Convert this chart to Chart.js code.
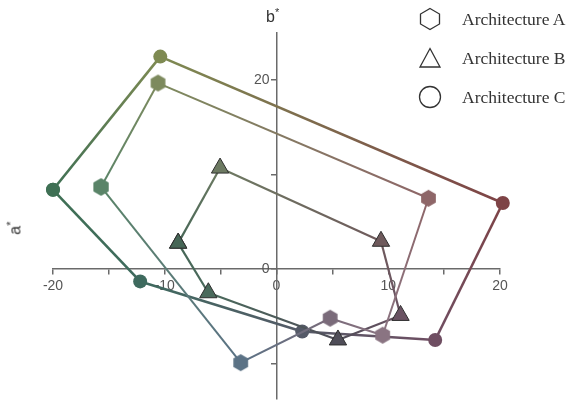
<!DOCTYPE html>
<html>
<head>
<meta charset="utf-8">
<script src="https://cdn.jsdelivr.net/npm/chart.js@4.4.1/dist/chart.umd.min.js"></script>
<style>
  body { margin: 0; background: #fff; }
  #wrap { position: relative; width: 584px; height: 410px; overflow: hidden; }
  .axis-title { position: absolute; font-family: 'Liberation Sans', Arial, sans-serif; font-size: 16px; color: #333; }
  #bTitle { left: 266px; top: 6px; }
  #aTitle { left: 8px; top: 218px; transform: rotate(-90deg); transform-origin: center; }
  .legend { position: absolute; left: 418px; font-family: 'Liberation Serif', 'DejaVu Serif', serif; font-size: 17.5px; color: #333; display: flex; align-items: center; }
  .legend svg { width: 24px; height: 24px; margin-right: 20px; }
</style>
</head>
<body>
<div id="wrap">
  <canvas id="chart" width="584" height="410"></canvas>
  <div class="axis-title" id="bTitle">b<sup style="font-size:11px">*</sup></div>
  <div class="axis-title" id="aTitle">a<sup style="font-size:11px">*</sup></div>
  <div class="legend" style="top:7px">
    <svg viewBox="0 0 24 24"><polygon points="12,1.5 21.5,7 21.5,17 12,22.5 2.5,17 2.5,7" fill="none" stroke="#333" stroke-width="1.3"/></svg>
    Architecture A
  </div>
  <div class="legend" style="top:46px">
    <svg viewBox="0 0 24 24"><polygon points="12,2.5 22,21 2,21" fill="none" stroke="#333" stroke-width="1.3"/></svg>
    Architecture B
  </div>
  <div class="legend" style="top:85px">
    <svg viewBox="0 0 24 24"><circle cx="12" cy="12" r="10.5" fill="none" stroke="#333" stroke-width="1.3"/></svg>
    Architecture C
  </div>
</div>
<script>
// a* / b* coordinates of each polygon, in drawing order (closed back to the first point)
const seriesNames = ['Architecture A', 'Architecture B', 'Architecture C'];
const archA_a = [-15.7, -10.6, 13.6, 9.5, 4.8, -3.2];
const archA_b = [8.7, 19.7, 7.5, -7.0, -5.2, -9.9];
const archB_a = [-8.8, -5.05, 9.35, 11.1, 5.5, -6.1];
const archB_b = [2.75, 10.7, 2.95, -4.9, -7.5, -2.5];
const archC_a = [-20.0, -10.4, 20.25, 14.2, 2.3, -12.2];
const archC_b = [8.4, 22.5, 7.0, -7.5, -6.6, -1.3];
const xTickLabels = [-20, -10, 0, 10, 20];
const yTickLabels = [0, 20];

// marker colours (the colour each point stands for)
const colorsA = ['#5a8468', '#7d8a5e', '#8e6668', '#8a7482', '#7a6b7a', '#5b7285'];
const colorsB = ['#466656', '#6d7a62', '#6f5a5c', '#6a5262', '#4f4d58', '#4a6a5c'];
const colorsC = ['#3f7054', '#7e8a52', '#7e4346', '#6f4e62', '#555a68', '#3e6a5e'];

function closedPoints(xs, ys) {
  const pts = xs.map((x, i) => ({ x, y: ys[i] }));
  pts.push({ ...pts[0] });
  return pts;
}

function hexMarker(color, r) {
  const c = document.createElement('canvas');
  const s = Math.ceil(r * 2 + 2);
  c.width = s; c.height = s;
  const g = c.getContext('2d');
  g.beginPath();
  for (let i = 0; i < 6; i++) {
    const ang = Math.PI / 3 * i - Math.PI / 2;
    const px = s / 2 + r * Math.cos(ang), py = s / 2 + r * Math.sin(ang);
    i ? g.lineTo(px, py) : g.moveTo(px, py);
  }
  g.closePath();
  g.fillStyle = color;
  g.fill();
  return c;
}

const hexA = colorsA.map(c => hexMarker(c, 8.5));

function gradientSegment(colors) {
  return ctx => {
    const { p0, p1 } = ctx;
    const g = ctx.chart.ctx.createLinearGradient(p0.x, p0.y, p1.x, p1.y);
    g.addColorStop(0, colors[ctx.p0DataIndex % colors.length]);
    g.addColorStop(1, colors[ctx.p1DataIndex % colors.length]);
    return g;
  };
}

const pick = colors => ctx => colors[ctx.dataIndex % colors.length];

// center axes should not push the plot area inwards
function noPadding(scale) {
  scale.paddingTop = 0;
  scale.paddingBottom = 0;
  scale.paddingLeft = 0;
  scale.paddingRight = 0;
  if (scale.isHorizontal()) scale.height = 0; else scale.width = 0;
}

new Chart(document.getElementById('chart'), {
  type: 'scatter',
  data: {
    datasets: [
      {
        label: seriesNames[0],
        data: closedPoints(archA_a, archA_b),
        showLine: true,
        clip: false,
        borderWidth: 2,
        borderColor: colorsA[0],
        segment: { borderColor: gradientSegment(colorsA) },
        pointStyle: ctx => hexA[ctx.dataIndex % hexA.length],
        pointRadius: 8
      },
      {
        label: seriesNames[1],
        data: closedPoints(archB_a, archB_b),
        showLine: true,
        clip: false,
        borderWidth: 2.2,
        borderColor: colorsB[0],
        segment: { borderColor: gradientSegment(colorsB) },
        pointStyle: 'triangle',
        pointRadius: 10,
        pointBackgroundColor: pick(colorsB),
        pointBorderColor: '#2e2e2e',
        pointBorderWidth: 1
      },
      {
        label: seriesNames[2],
        data: closedPoints(archC_a, archC_b),
        showLine: true,
        clip: false,
        borderWidth: 2.6,
        borderColor: colorsC[0],
        segment: { borderColor: gradientSegment(colorsC) },
        pointStyle: 'circle',
        pointRadius: 7,
        pointBackgroundColor: pick(colorsC),
        pointBorderWidth: 0
      }
    ]
  },
  options: {
    responsive: false,
    animation: false,
    layout: { padding: { left: 53, right: 84, top: 33, bottom: 0 } },
    plugins: { legend: { display: false }, tooltip: { enabled: false } },
    scales: {
      x: {
        type: 'linear',
        position: { y: 0 },
        min: -20, max: 20,
        afterFit: noPadding,
        border: { color: '#6a6a6a', width: 1.5 },
        grid: { drawOnChartArea: false, drawTicks: true, tickLength: 5, color: '#6a6a6a', lineWidth: 1.5 },
        ticks: {
          stepSize: 5, padding: 4, maxRotation: 0, autoSkip: false,
          color: '#555', font: { family: 'Liberation Sans', size: 14 },
          callback: v => xTickLabels.includes(v) ? String(v) : ''
        }
      },
      y: {
        type: 'linear',
        position: { x: 0 },
        min: -13.75, max: 25,
        afterFit: noPadding,
        border: { color: '#6a6a6a', width: 1.5 },
        grid: { drawOnChartArea: false, drawTicks: true, tickLength: 5, color: '#6a6a6a', lineWidth: 1.5 },
        ticks: {
          stepSize: 10, includeBounds: false,
          color: '#555', font: { family: 'Liberation Sans', size: 14 },
          // labels sit right against the axis line on a centred axis, so pad with a space
          callback: v => yTickLabels.includes(v) ? String(v) + '\u2002' : ''
        }
      }
    }
  }
});
</script>
</body>
</html>
